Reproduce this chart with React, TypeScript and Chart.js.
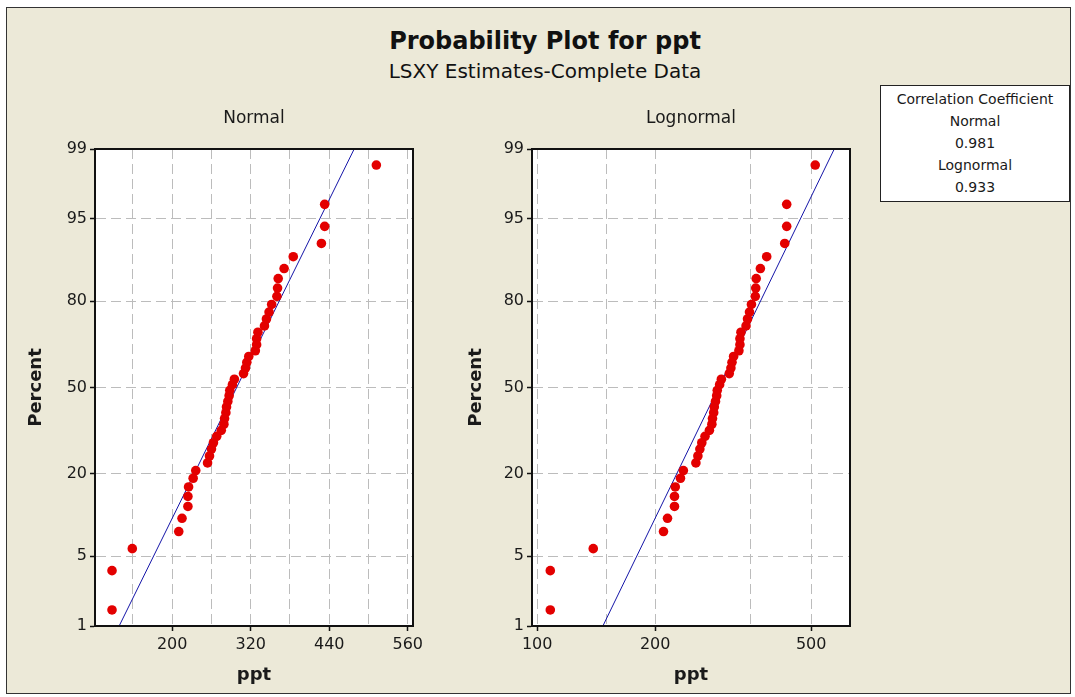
import React, { useEffect, useRef } from 'react';
import { Chart, registerables } from 'chart.js';

Chart.register(...registerables);

const FONT = "'DejaVu Sans', Verdana, sans-serif";

// observed data (ppt), sorted
const PPT = [108, 108, 139, 210, 215, 224, 224, 225, 232, 236, 254, 257, 260, 263, 268, 275, 279, 280, 282, 283, 285, 287, 288, 292, 295, 309, 312, 314, 317, 327, 329, 329, 331, 341, 344, 348, 352, 360, 361, 362, 371, 385, 428, 433, 433, 512];
// plotted percent for each observation
const PERCENT = [1.5, 3.7, 5.8, 8.0, 10.1, 12.3, 14.4, 16.6, 18.8, 20.9, 23.1, 25.2, 27.4, 29.5, 31.7, 33.8, 36.0, 38.1, 40.3, 42.5, 44.6, 46.8, 48.9, 51.1, 53.2, 55.4, 57.5, 59.7, 61.9, 64.0, 66.2, 68.3, 70.5, 72.6, 74.8, 76.9, 79.1, 81.3, 83.4, 85.6, 87.7, 89.9, 92.0, 94.2, 96.3, 98.5];

const PERCENT_TICKS = [1, 5, 20, 50, 80, 95, 99];
const NORMAL_X_GRID = [140, 200, 260, 320, 380, 440, 500, 560];
const NORMAL_X_LABELS = [200, 320, 440, 560];
const NORMAL_X_RANGE = [82, 568];
const LOG_X_GRID = [100, 150, 200, 350, 500];
const LOG_X_LABELS = [100, 200, 500];
const LOG_X_RANGE = [97, 628];

const NORMAL_FIT = [298.5, 77.2]; // mean, standard deviation
const LOGNORMAL_FIT = [5.6706, 0.2921]; // location, scale (natural log)
const FIT_PERCENT = [1, 99];

const CORR_LABELS = ['Normal', 'Lognormal'];
const CORR_VALUES = ['0.981', '0.933'];

// inverse standard normal CDF (Acklam)
function probit(p: number): number {
  const a = [-3.969683028665376e1, 2.209460984245205e2, -2.759285104469687e2, 1.38357751867269e2, -3.066479806614716e1, 2.506628277459239];
  const b = [-5.447609879822406e1, 1.615858368580409e2, -1.556989798598866e2, 6.680131188771972e1, -1.328068155288572e1];
  const c = [-7.784894002430293e-3, -3.223964580411365e-1, -2.400758277161838, -2.549732539343734, 4.374664141464968, 2.938163982698783];
  const d = [7.784695709041462e-3, 3.224671290700398e-1, 2.445134137142996, 3.754408661907416];
  const pl = 0.02425;
  if (p < pl) {
    const q = Math.sqrt(-2 * Math.log(p));
    return (((((c[0] * q + c[1]) * q + c[2]) * q + c[3]) * q + c[4]) * q + c[5]) / ((((d[0] * q + d[1]) * q + d[2]) * q + d[3]) * q + 1);
  }
  if (p > 1 - pl) {
    const q = Math.sqrt(-2 * Math.log(1 - p));
    return -(((((c[0] * q + c[1]) * q + c[2]) * q + c[3]) * q + c[4]) * q + c[5]) / ((((d[0] * q + d[1]) * q + d[2]) * q + d[3]) * q + 1);
  }
  const q = p - 0.5;
  const r = q * q;
  return ((((((a[0] * r + a[1]) * r + a[2]) * r + a[3]) * r + a[4]) * r + a[5]) * q) / (((((b[0] * r + b[1]) * r + b[2]) * r + b[3]) * r + b[4]) * r + 1);
}

const plotFrame = {
  id: 'plotFrame',
  beforeDraw(chart: any) {
    const { ctx, chartArea: a } = chart;
    ctx.save();
    ctx.fillStyle = '#ffffff';
    ctx.fillRect(a.left, a.top, a.right - a.left, a.bottom - a.top);
    ctx.restore();
  },
  afterDraw(chart: any) {
    const { ctx, chartArea: a } = chart;
    ctx.save();
    ctx.strokeStyle = '#111';
    ctx.lineWidth = 2;
    ctx.strokeRect(a.left, a.top, a.right - a.left, a.bottom - a.top);
    ctx.restore();
  },
};

function makeConfig(kind: 'normal' | 'lognormal'): any {
  const isNormal = kind === 'normal';
  const xGrid = isNormal ? NORMAL_X_GRID : LOG_X_GRID;
  const xLabels = isNormal ? NORMAL_X_LABELS : LOG_X_LABELS;
  const xRange = isNormal ? NORMAL_X_RANGE : LOG_X_RANGE;
  const fitX = (z: number) =>
    isNormal ? NORMAL_FIT[0] + z * NORMAL_FIT[1] : Math.exp(LOGNORMAL_FIT[0] + z * LOGNORMAL_FIT[1]);
  const points = PPT.map((v, i) => ({ x: v, y: probit(PERCENT[i] / 100) }));
  const fit = FIT_PERCENT.map((p) => {
    const z = probit(p / 100);
    return { x: fitX(z), y: z };
  });
  const tickFont = { family: FONT, size: 16 };
  const titleFont = { family: FONT, size: 18, weight: 'bold' };
  return {
    type: 'scatter',
    data: {
      datasets: [
        { data: fit, showLine: true, borderColor: '#1515a8', borderWidth: 1, pointRadius: 0, order: 2 },
        { data: points, pointRadius: 4.8, pointHoverRadius: 4.8, backgroundColor: '#e30000', borderWidth: 0, order: 1 },
      ],
    },
    plugins: [plotFrame],
    options: {
      responsive: false,
      animation: false,
      events: [],
      layout: { padding: { left: 0, right: isNormal ? 20 : 10, top: 0, bottom: 0 } },
      plugins: {
        legend: { display: false },
        tooltip: { enabled: false },
        title: {
          display: true,
          fullSize: false,
          text: isNormal ? 'Normal' : 'Lognormal',
          font: { family: FONT, size: 17, weight: 'normal' },
          color: '#1a1a1a',
          padding: { top: 8, bottom: 20.6 },
        },
      },
      scales: {
        x: {
          type: isNormal ? 'linear' : 'logarithmic',
          min: xRange[0],
          max: xRange[1],
          bounds: 'data',
          afterBuildTicks: (s: any) => {
            s.ticks = xGrid.map((v) => ({ value: v }));
          },
          afterFit: (s: any) => {
            s.height = 64;
          },
          ticks: {
            autoSkip: false,
            maxRotation: 0,
            font: tickFont,
            color: '#1a1a1a',
            padding: 4,
            callback: (v: number) => (xLabels.includes(v) ? String(v) : ''),
          },
          grid: {
            color: '#bcbcbc',
            lineWidth: 1,
            tickLength: 5,
            tickWidth: 1.5,
            tickColor: (ctx: any) => (ctx.tick && xLabels.includes(ctx.tick.value) ? '#111' : 'rgba(0,0,0,0)'),
          },
          border: { display: true, color: '#111', width: 2, dash: [10, 5] },
          title: { display: true, text: 'ppt', font: titleFont, color: '#1a1a1a', padding: { top: 0, bottom: 4 } },
        },
        y: {
          type: 'linear',
          min: probit(PERCENT_TICKS[0] / 100),
          max: probit(PERCENT_TICKS[PERCENT_TICKS.length - 1] / 100),
          bounds: 'data',
          afterBuildTicks: (s: any) => {
            s.ticks = PERCENT_TICKS.map((p) => ({ value: probit(p / 100) }));
          },
          afterFit: (s: any) => {
            s.width = isNormal ? 85 : 82;
          },
          ticks: {
            autoSkip: false,
            font: tickFont,
            color: '#1a1a1a',
            padding: 3,
            callback: (_v: number, i: number) => String(PERCENT_TICKS[i]),
          },
          grid: { color: '#bcbcbc', lineWidth: 1, tickLength: 5, tickWidth: 1.5, tickColor: '#111' },
          border: { display: true, color: '#111', width: 2, dash: [10, 5] },
          title: { display: true, text: 'Percent', font: titleFont, color: '#1a1a1a', padding: { top: 16, bottom: 0 } },
        },
      },
    },
  };
}

export default function App() {
  const leftRef = useRef<HTMLCanvasElement>(null);
  const rightRef = useRef<HTMLCanvasElement>(null);

  useEffect(() => {
    const c1 = new Chart(leftRef.current as HTMLCanvasElement, makeConfig('normal'));
    const c2 = new Chart(rightRef.current as HTMLCanvasElement, makeConfig('lognormal'));
    return () => {
      c1.destroy();
      c2.destroy();
    };
  }, []);

  return (
    <div style={{ position: 'absolute', left: 0, top: 0, width: 1075, height: 697, background: '#ffffff', overflow: 'hidden', fontFamily: FONT }}>
      <div
        style={{
          position: 'absolute',
          left: 6,
          top: 7,
          width: 1065,
          height: 687,
          boxSizing: 'border-box',
          border: '1px solid #333',
          background: '#ECE9D8',
        }}
      />
      <div style={{ position: 'absolute', left: 345, width: 400, top: 27, textAlign: 'center', fontSize: 24, lineHeight: '28px', fontWeight: 'bold', color: '#111' }}>
        Probability Plot for ppt
      </div>
      <div style={{ position: 'absolute', left: 345, width: 400, top: 59, textAlign: 'center', fontSize: 20, lineHeight: '24px', color: '#111' }}>
        LSXY Estimates-Complete Data
      </div>
      <canvas ref={leftRef} width={423} height={590} style={{ position: 'absolute', left: 10, top: 100, width: 423, height: 590 }} />
      <canvas ref={rightRef} width={410} height={590} style={{ position: 'absolute', left: 450, top: 100, width: 410, height: 590 }} />
      <div
        style={{
          position: 'absolute',
          left: 880,
          top: 85,
          width: 190,
          height: 117,
          boxSizing: 'border-box',
          border: '1px solid #222',
          background: '#ffffff',
          textAlign: 'center',
          fontSize: 14,
          lineHeight: '22px',
          paddingTop: 2,
          color: '#1a1a1a',
        }}
      >
        <div>Correlation Coefficient</div>
        {CORR_LABELS.map((lab, i) => (
          <React.Fragment key={lab}>
            <div>{lab}</div>
            <div>{CORR_VALUES[i]}</div>
          </React.Fragment>
        ))}
      </div>
    </div>
  );
}
